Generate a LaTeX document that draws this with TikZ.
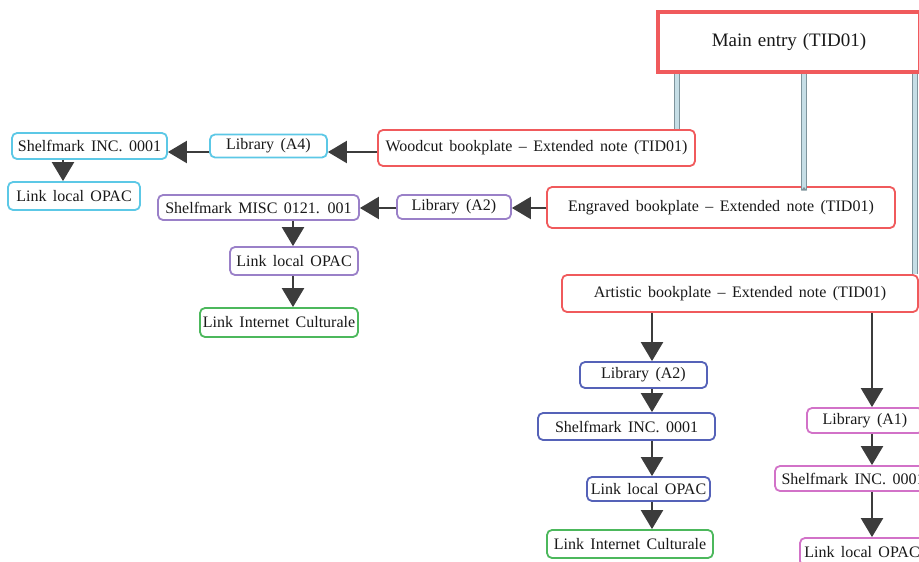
\documentclass[tikz,border=0pt]{standalone}
\usepackage{fontspec}
\setmainfont{Liberation Serif}
\usetikzlibrary{arrows.meta}
\definecolor{cred}{HTML}{F05A5C}
\definecolor{ccyan}{HTML}{5CC8E6}
\definecolor{cpurple}{HTML}{9A80C8}
\definecolor{cgreen}{HTML}{4CB85C}
\definecolor{cblue}{HTML}{5562B8}
\definecolor{cpink}{HTML}{D272C8}
\definecolor{carrow}{HTML}{3C3C3C}
\definecolor{cpipe}{HTML}{C6DEE6}
\definecolor{cpipeedge}{HTML}{7E949C}
\newcommand\boxfnt{\fontsize{16}{19}\selectfont\spaceskip 6.4pt\relax}
\newcommand\mainfnt{\fontsize{19}{22}\selectfont\spaceskip 6pt\relax}
\tikzset{
  box/.style={draw, rounded corners=5pt, line width=1.8pt, fill=white, inner sep=0pt,
    font=\boxfnt, text=black!90},
  redbox/.style={box, draw=cred},
  cybox/.style={box, draw=ccyan},
  pubox/.style={box, draw=cpurple},
  grbox/.style={box, draw=cgreen},
  blbox/.style={box, draw=cblue},
  pkbox/.style={box, draw=cpink},
  arr/.style={draw=carrow, line width=2.2pt, -{Triangle[length=19pt,width=22pt]}},
  pipe/.style={draw=cpipeedge, line width=0.9pt, double=cpipe, double distance=3.6pt},
}
\begin{document}
\begin{tikzpicture}[x=1pt,y=-1pt]
\clip (0,0) rectangle (919,562);
\fill[white] (0,0) rectangle (919,562);
% helper coordinates
\coordinate (r1) at (0,152);
\coordinate (r2) at (0,208);
\coordinate (cA) at (63,0);
\coordinate (cB) at (293,0);
\coordinate (cC) at (652,0);
\coordinate (cD) at (872,0);
\coordinate (p1) at (677,0);
\coordinate (p2) at (804,0);
\coordinate (p3) at (915,0);
% main and extended-note boxes
\node[draw=cred, line width=4.5pt, fill=white, minimum width=262pt, minimum height=60pt, inner sep=0pt,
  font=\mainfnt, text=black!90] (main) at (789,42) {Main entry (TID01)};
\node[redbox, minimum width=317pt, minimum height=36pt] (woodcut) at (536.5,148) {Woodcut bookplate – Extended note (TID01)};
\node[redbox, minimum width=348pt, minimum height=41pt] (engraved) at (721,207.5) {Engraved bookplate – Extended note (TID01)};
\node[redbox, minimum width=356pt, minimum height=37pt] (artistic) at (740,293.5) {Artistic bookplate – Extended note (TID01)};
% pipes
\draw[pipe] (p1 |- main.south) -- (p1 |- woodcut.north);
\draw[pipe] (p2 |- main.south) -- ([yshift=-4pt]p2 |- engraved.north);
\fill[cpipeedge] ([shift={(-3pt,-4.5pt)}]p2 |- engraved.north) -- ([shift={(3pt,-4.5pt)}]p2 |- engraved.north) -- ([yshift=-1pt]p2 |- engraved.north) -- cycle;
\draw[pipe] (p3 |- main.south) -- (p3 |- artistic.north);
\node[draw=cred, line width=4.5pt, minimum width=262pt, minimum height=60pt, inner sep=0pt] at (main) {};
% cyan branch
\node[cybox, minimum width=117pt, minimum height=23pt] (libA4) at (268.5,146) {Library (A4)};
\node[cybox, minimum width=155pt, minimum height=26pt] (shelfC) at (89.5,146) {Shelfmark INC. 0001};
\node[cybox, minimum width=132pt, minimum height=28pt] (opacC) at (74,196) {Link local OPAC};
% purple branch
\node[pubox, minimum width=114pt, minimum height=24pt] (libA2p) at (454,207) {Library (A2)};
\node[pubox, minimum width=201pt, minimum height=25pt] (misc) at (258.5,207.5) {Shelfmark MISC 0121. 001};
\node[pubox, minimum width=128pt, minimum height=28pt] (opacP) at (294,261) {Link local OPAC};
\node[grbox, minimum width=158pt, minimum height=29pt] (cultP) at (279,322.5) {Link Internet Culturale};
% blue branch
\node[blbox, minimum width=127pt, minimum height=26pt] (libA2b) at (643.5,375) {Library (A2)};
\node[blbox, minimum width=177pt, minimum height=27pt] (shelfB) at (626.5,426.5) {Shelfmark INC. 0001};
\node[blbox, minimum width=123pt, minimum height=24pt] (opacB) at (648.5,489) {Link local OPAC};
\node[grbox, minimum width=166pt, minimum height=28pt] (cultB) at (630,544) {Link Internet Culturale};
% pink branch
\node[pkbox, minimum width=116pt, minimum height=25pt] (libA1) at (865,420.5) {Library (A1)};
\node[pkbox, minimum width=156pt, minimum height=25pt] (shelfPk) at (853,478.5) {Shelfmark INC. 0001};
\node[pkbox, minimum width=124pt, minimum height=28pt] (opacPk) at (862,552) {Link local OPAC};
% arrows
\draw[arr] (woodcut.west |- r1) -- (libA4.east |- r1);
\draw[arr] (libA4.west |- r1) -- (shelfC.east |- r1);
\draw[arr] (cA |- shelfC.south) -- (cA |- opacC.north);
\draw[arr] (engraved.west |- r2) -- (libA2p.east |- r2);
\draw[arr] (libA2p.west |- r2) -- (misc.east |- r2);
\draw[arr] (cB |- misc.south) -- (cB |- opacP.north);
\draw[arr] (cB |- opacP.south) -- (cB |- cultP.north);
\draw[arr] (cC |- artistic.south) -- (cC |- libA2b.north);
\draw[arr] (cC |- libA2b.south) -- (cC |- shelfB.north);
\draw[arr] (cC |- shelfB.south) -- (cC |- opacB.north);
\draw[arr] (cC |- opacB.south) -- (cC |- cultB.north);
\draw[arr] (cD |- artistic.south) -- (cD |- libA1.north);
\draw[arr] (cD |- libA1.south) -- (cD |- shelfPk.north);
\draw[arr] (cD |- shelfPk.south) -- (cD |- opacPk.north);
\end{tikzpicture}
\end{document}
